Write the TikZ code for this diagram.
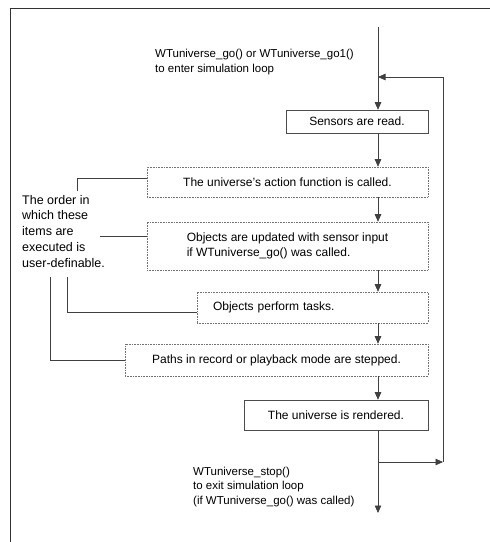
\documentclass[tikz,border=0pt]{standalone}
\usepackage{fontspec}
\setmainfont{Liberation Sans}
\usetikzlibrary{arrows.meta,calc}
\tikzset{
  ln/.style={draw=black!75, line width=0.7pt},
  arr/.style={ln, -{Triangle[width=6.5pt,length=7.5pt]}},
  boxs/.style={draw=black!70, line width=0.6pt, rectangle, inner sep=0pt, font=\fontsize{12}{14.5}\selectfont},
  boxd/.style={draw=black!55, densely dotted, line width=0.6pt, rectangle, inner sep=0pt, font=\fontsize{12}{14.5}\selectfont},
  lbl/.style={align=left, inner sep=0pt, font=\fontsize{11.5}{14.5}\selectfont},
}
\begin{document}
\begin{tikzpicture}[x=1pt,y=-1pt]
\useasboundingbox (0,0) rectangle (490,542);
% frame
\draw[draw=black!80, line width=0.8pt] (490,8) -- (10,8) -- (10,542);
% top label
\node[lbl, anchor=west] (golbl) at (155,62) {WTuniverse\_go() or WTuniverse\_go1()\\to enter simulation loop};
\coordinate (start) at (378,27);
% boxes
\node[boxs, minimum width=142pt, minimum height=23pt] (sen) at (357,121.5) {Sensors are read.};
\node[boxd, minimum width=281pt, minimum height=30pt] (act) at (287.5,182) {The universe's action function is called.};
\node[boxd, minimum width=281pt, minimum height=48pt, align=left] (upd) at (287.5,246) {Objects are updated with sensor input\\if WTuniverse\_go() was called.};
\node[boxd, minimum width=231pt, minimum height=31pt, text width=199pt, align=left, inner xsep=16pt] (tsk) at (312.5,307.5) {Objects perform tasks.};
\node[boxd, minimum width=303pt, minimum height=32pt] (pth) at (276.5,360) {Paths in record or playback mode are stepped.};
\node[boxs, minimum width=184pt, minimum height=30pt] (ren) at (336,415) {The universe is rendered.};
% left label
\node[lbl, anchor=north west, font=\fontsize{12.5}{15.7}\selectfont] (ord) at (22,195) {The order in\\which these\\items are\\executed is\\user-definable.};
% bottom label
\node[lbl, anchor=west] (stoplbl) at (193,487) {WTuniverse\_stop()\\to exit simulation loop\\(if WTuniverse\_go() was called)};
% loop coordinates
\coordinate (ret) at (378,77);
\coordinate (rt) at (443,77);
\coordinate (junc) at (378,462);
\coordinate (rb) at (443,462);
\coordinate (exitend) at (378,513);
\coordinate (ordpt) at (100,236);
% main flow
\draw[arr] (start) -- (sen.north -| start);
\draw[arr] (sen.south -| start) -- (act.north -| start);
\draw[arr] (act.south -| start) -- (upd.north -| start);
\draw[arr] (upd.south -| start) -- (tsk.north -| start);
\draw[arr] (tsk.south -| start) -- (pth.north -| start);
\draw[arr] (pth.south -| start) -- (ren.north -| start);
\draw[arr] (ren.south -| start) -- (exitend);
% loop back
\draw[arr] (junc) -- (rb);
\draw[arr] (rb) -- (rt) -- (ret);
% left connectors
\draw[ln] ([yshift=4pt]act.west) -| (77,191);
\draw[ln] (ordpt) -- (ordpt -| upd.west);
\draw[ln] (67,277) |- ([yshift=-5pt]tsk.west);
\draw[ln] (50,277) |- (pth.west);
\end{tikzpicture}
\end{document}
